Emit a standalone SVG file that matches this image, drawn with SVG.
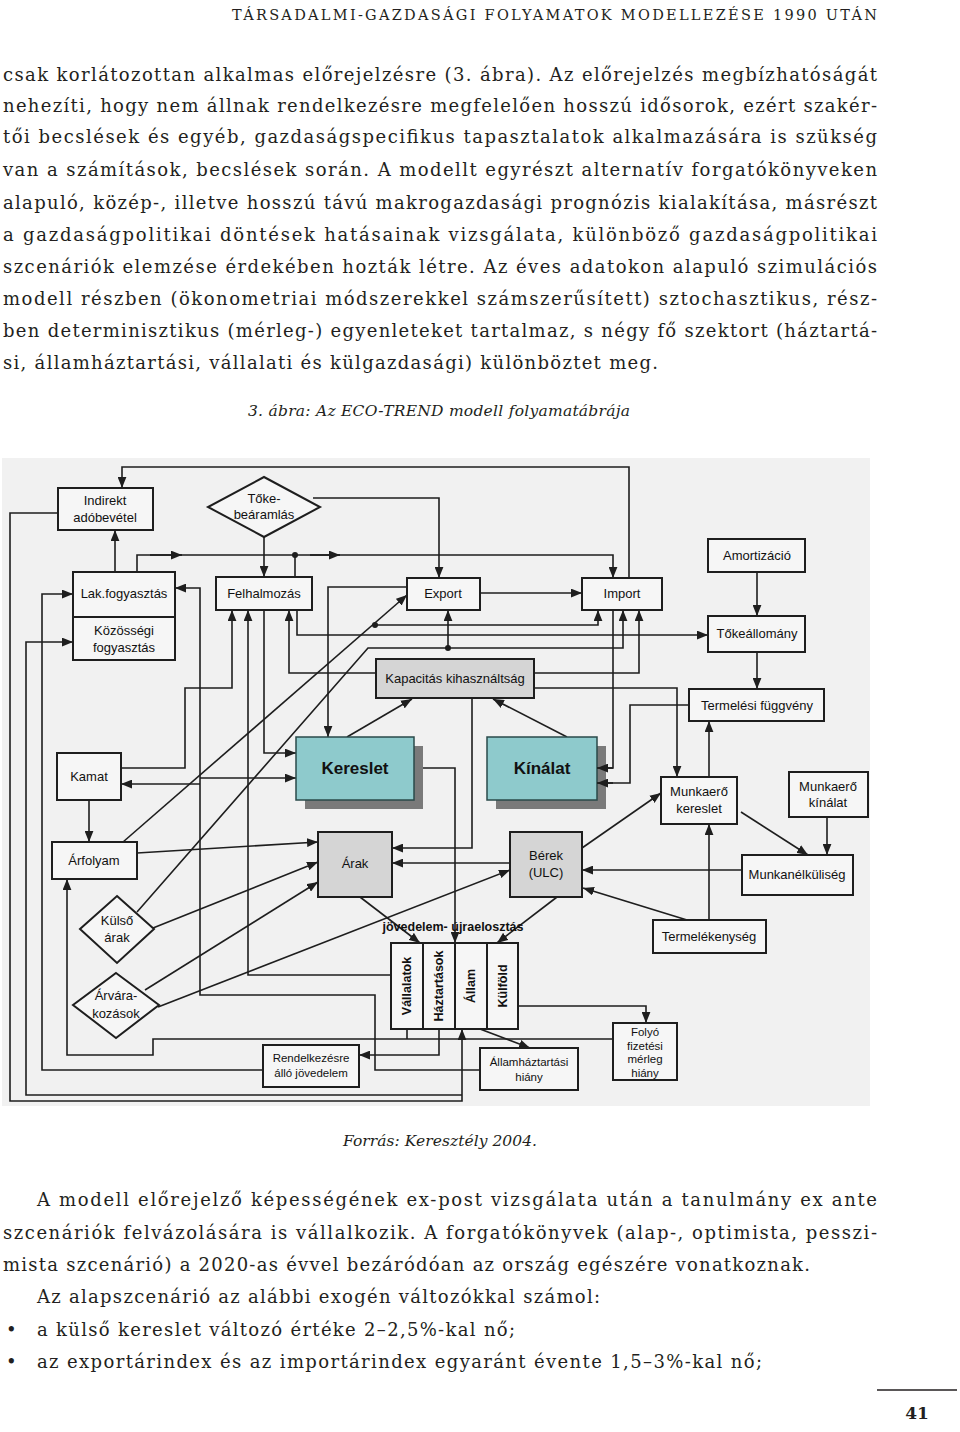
<svg xmlns="http://www.w3.org/2000/svg" width="960" height="1432" viewBox="0 0 960 1432">
<style>
.pg{font-family:"DejaVu Serif","Liberation Serif",serif;font-size:18px;fill:#231f20}
.it{font-family:"DejaVu Serif","Liberation Serif",serif;font-size:15.5px;font-style:italic;fill:#231f20}
.hd{font-family:"DejaVu Serif","Liberation Serif",serif;font-size:14.5px;fill:#231f20}
.bx{fill:#f6f6f6;stroke:#1e1e1e;stroke-width:2}
.gb{fill:#d5d5d5;stroke:#1e1e1e;stroke-width:2}
.tb{fill:#8ecacc;stroke:#2a4a4a;stroke-width:1.5}
.sh{fill:#7a7a7a}
.t{font-family:"Liberation Sans",Arial,sans-serif;font-size:13px;fill:#111;text-anchor:middle}
.ts{font-family:"Liberation Sans",Arial,sans-serif;font-size:11.5px;fill:#111;text-anchor:middle}
.tbd{font-family:"Liberation Sans",Arial,sans-serif;font-size:17px;font-weight:bold;fill:#111;text-anchor:middle}
.tr{font-family:"Liberation Sans",Arial,sans-serif;font-size:12.5px;font-weight:bold;fill:#111;text-anchor:middle}
.ln{fill:none;stroke:#1e1e1e;stroke-width:1.6}
.a{marker-end:url(#ar)}
</style>
<defs>
<marker id="ar" viewBox="0 0 10 8" refX="10" refY="4" markerWidth="11" markerHeight="9" markerUnits="userSpaceOnUse" orient="auto"><path d="M0,0 L10,4 L0,8 z" fill="#1e1e1e"/></marker>
</defs>
<rect width="960" height="1432" fill="#ffffff"/>

<!-- page header and text -->
<text class="hd" x="232" y="20" textLength="645" lengthAdjust="spacing">TÁRSADALMI-GAZDASÁGI FOLYAMATOK MODELLEZÉSE 1990 UTÁN</text>
<g class="pg">
<text x="3" y="81" textLength="874" lengthAdjust="spacing">csak korlátozottan alkalmas előrejelzésre (3. ábra). Az előrejelzés megbízhatóságát</text>
<text x="3" y="112" textLength="874" lengthAdjust="spacing">nehezíti, hogy nem állnak rendelkezésre megfelelően hosszú idősorok, ezért szakér-</text>
<text x="3" y="143" textLength="874" lengthAdjust="spacing">tői becslések és egyéb, gazdaságspecifikus tapasztalatok alkalmazására is szükség</text>
<text x="3" y="176" textLength="874" lengthAdjust="spacing">van a számítások, becslések során. A modellt egyrészt alternatív forgatókönyveken</text>
<text x="3" y="209" textLength="874" lengthAdjust="spacing">alapuló, közép-, illetve hosszú távú makrogazdasági prognózis kialakítása, másrészt</text>
<text x="3" y="241" textLength="874" lengthAdjust="spacing">a gazdaságpolitikai döntések hatásainak vizsgálata, különböző gazdaságpolitikai</text>
<text x="3" y="273" textLength="874" lengthAdjust="spacing">szcenáriók elemzése érdekében hozták létre. Az éves adatokon alapuló szimulációs</text>
<text x="3" y="305" textLength="874" lengthAdjust="spacing">modell részben (ökonometriai módszerekkel számszerűsített) sztochasztikus, rész-</text>
<text x="3" y="337" textLength="874" lengthAdjust="spacing">ben determinisztikus (mérleg-) egyenleteket tartalmaz, s négy fő szektort (háztartá-</text>
<text x="3" y="369" textLength="655" lengthAdjust="spacing">si, államháztartási, vállalati és külgazdasági) különböztet meg.</text>
</g>
<text class="it" x="248" y="416" textLength="382" lengthAdjust="spacing">3. ábra: Az ECO-TREND modell folyamatábrája</text>
<text class="it" x="343" y="1146" textLength="194" lengthAdjust="spacing">Forrás: Keresztély 2004.</text>
<g class="pg">
<text x="37" y="1206" textLength="840" lengthAdjust="spacing">A modell előrejelző képességének ex-post vizsgálata után a tanulmány ex ante</text>
<text x="3" y="1239" textLength="874" lengthAdjust="spacing">szcenáriók felvázolására is vállalkozik. A forgatókönyvek (alap-, optimista, pesszi-</text>
<text x="3" y="1271" textLength="807" lengthAdjust="spacing">mista szcenárió) a 2020-as évvel bezáródóan az ország egészére vonatkoznak.</text>
<text x="37" y="1303" textLength="563" lengthAdjust="spacing">Az alapszcenárió az alábbi exogén változókkal számol:</text>
<text x="6" y="1336">•</text>
<text x="37" y="1336" textLength="478" lengthAdjust="spacing">a külső kereslet változó értéke 2–2,5%-kal nő;</text>
<text x="6" y="1368">•</text>
<text x="37" y="1368" textLength="725" lengthAdjust="spacing">az exportárindex és az importárindex egyaránt évente 1,5–3%-kal nő;</text>
</g>
<line x1="877" y1="1390" x2="957" y2="1390" stroke="#231f20" stroke-width="1.5"/>
<text x="917" y="1419" text-anchor="middle" font-family="DejaVu Serif, serif" font-size="17" font-weight="bold" fill="#231f20">41</text>

<!-- diagram background -->
<rect x="2" y="458" width="868" height="648" fill="#f1f1f1"/>

<!-- connectors -->
<g id="connectors" class="ln">
<path class="a" d="M629,578 V467 H122 V488"/>
<path class="a" d="M264,537 V577"/>
<path class="a" d="M313,498 H439 V578"/>
<path class="a" d="M137,572 V555 H613 V578"/>
<path class="a" d="M150,555 H182"/>
<path class="a" d="M310,555 H340"/>
<path d="M295,577 V555"/>
<path class="a" d="M115,572 V530"/>
<path class="a" d="M58,513 H10 V1101 H462 V1029"/>
<path class="a" d="M462,1095 H26 V642 H73"/>
<path class="a" d="M263,1070 H42 V594 H73"/>
<path class="a" d="M480,1070 H375 V995 H200 V588 H175"/>
<path class="a" d="M200,778 H296"/>
<path class="a" d="M200,784 H121"/>
<path class="a" d="M121,768 H185 V688 H232 V610"/>
<path class="a" d="M391,975 H248 V610"/>
<path class="a" d="M264,610 V753 H296"/>
<path class="a" d="M376,673 H289 V610"/>
<path class="a" d="M297,610 V635 H708"/>
<path class="a" d="M407,587 H328 V737"/>
<path class="a" d="M123,842 L407,595"/>
<path class="a" d="M375,625 H598 V610"/>
<path class="a" d="M137,912 L368,648 H623 V610"/>
<path class="a" d="M448,648 V610"/>
<path class="a" d="M480,593 H582"/>
<path d="M613,610 V768 H606"/>
<path class="a" d="M534,673 H639 V610"/>
<path class="a" d="M534,688 H677 V777"/>
<path class="a" d="M757,572 V616"/>
<path class="a" d="M757,652 V689"/>
<path d="M689,705 H630 V783 H606"/>
<path class="a" d="M709,777 V721"/>
<path class="a" d="M741,812 L808,855"/>
<path class="a" d="M827,817 V855"/>
<path class="a" d="M582,848 L661,793"/>
<path class="a" d="M742,870 H582"/>
<path class="a" d="M687,920 L583,888"/>
<path class="a" d="M709,920 V824"/>
<path class="a" d="M347,737 L412,699"/>
<path class="a" d="M567,737 L493,699"/>
<path class="a" d="M472,698 V848 H392"/>
<path class="a" d="M510,863 H392"/>
<path class="a" d="M414,768 H455 V943"/>
<path class="a" d="M360,897 L420,943"/>
<path class="a" d="M557,897 L497,943"/>
<path class="a" d="M158,1007 L510,870"/>
<path class="a" d="M137,853 L318,842"/>
<path class="a" d="M153,928 L318,862"/>
<path class="a" d="M145,990 L318,882"/>
<path class="a" d="M89,800 V842"/>
<path class="a" d="M613,1039 H153 V1055 H67 V879"/>
<path d="M407,1029 V1039"/>
<path class="a" d="M439,1029 V1055 H359"/>
<path class="a" d="M480,1029 L530,1048"/>
<path class="a" d="M518,1006 H646 V1023"/>
</g>
<g fill="#1e1e1e">
<circle cx="295" cy="555" r="3"/>
<circle cx="375" cy="625" r="3"/>
<circle cx="448" cy="648" r="3"/>
</g>

<!-- nodes -->
<g id="n-indirekt"><rect class="bx" x="58" y="488" width="95" height="42"/><text class="t" x="105" y="505">Indirekt</text><text class="t" x="105" y="522">adóbevétel</text></g>
<g id="n-toke"><polygon class="bx" points="264,477 320,507 264,537 208,507"/><text class="t" x="264" y="503">Tőke-</text><text class="t" x="264" y="519">beáramlás</text></g>
<g id="n-lak"><rect class="bx" x="73" y="572" width="102" height="88"/><line x1="73" y1="617" x2="175" y2="617" stroke="#1e1e1e" stroke-width="2"/><text class="t" x="124" y="598">Lak.fogyasztás</text><text class="t" x="124" y="635">Közösségi</text><text class="t" x="124" y="652">fogyasztás</text></g>
<g id="n-felhalmozas"><rect class="bx" x="216" y="577" width="96" height="33"/><text class="t" x="264" y="598">Felhalmozás</text></g>
<g id="n-export"><rect class="bx" x="407" y="578" width="73" height="32"/><text class="t" x="443" y="598">Export</text></g>
<g id="n-import"><rect class="bx" x="582" y="578" width="80" height="32"/><text class="t" x="622" y="598">Import</text></g>
<g id="n-amortizacio"><rect class="bx" x="708" y="539" width="97" height="33"/><text class="t" x="757" y="560">Amortizáció</text></g>
<g id="n-tokeallomany"><rect class="bx" x="708" y="616" width="97" height="36"/><text class="t" x="757" y="638">Tőkeállomány</text></g>
<g id="n-kapacitas"><rect class="gb" x="376" y="659" width="158" height="39"/><text class="t" x="455" y="683">Kapacitás kihasználtság</text></g>
<g id="n-termelesi"><rect class="bx" x="689" y="689" width="135" height="32"/><text class="t" x="757" y="710">Termelési függvény</text></g>
<g id="n-kamat"><rect class="bx" x="57" y="753" width="64" height="47"/><text class="t" x="89" y="781">Kamat</text></g>
<g id="n-arfolyam"><rect class="bx" x="52" y="842" width="85" height="37"/><text class="t" x="94" y="865">Árfolyam</text></g>
<g id="n-kereslet"><rect class="sh" x="305" y="746" width="118" height="63"/><rect class="tb" x="296" y="737" width="118" height="63"/><text class="tbd" x="355" y="774">Kereslet</text></g>
<g id="n-kinalat"><rect class="sh" x="496" y="746" width="110" height="63"/><rect class="tb" x="487" y="737" width="110" height="63"/><text class="tbd" x="542" y="774">Kínálat</text></g>
<g id="n-mkereslet"><rect class="bx" x="661" y="777" width="76" height="47"/><text class="t" x="699" y="796">Munkaerő</text><text class="t" x="699" y="813">kereslet</text></g>
<g id="n-mkinalat"><rect class="bx" x="789" y="772" width="79" height="45"/><text class="t" x="828" y="791">Munkaerő</text><text class="t" x="828" y="807">kínálat</text></g>
<g id="n-munkanelkuliseg"><rect class="bx" x="742" y="855" width="111" height="40"/><text class="t" x="797" y="879">Munkanélküliség</text></g>
<g id="n-arak"><rect class="gb" x="318" y="832" width="74" height="65"/><text class="t" x="355" y="868">Árak</text></g>
<g id="n-berek"><rect class="gb" x="510" y="832" width="72" height="65"/><text class="t" x="546" y="860">Bérek</text><text class="t" x="546" y="877">(ULC)</text></g>
<g id="n-termelekenyseg"><rect class="bx" x="653" y="920" width="113" height="33"/><text class="t" x="709" y="941">Termelékenység</text></g>
<g id="n-kulsoarak"><polygon class="bx" points="117,896 154,929 117,963 80,929"/><text class="t" x="117" y="925">Külső</text><text class="t" x="117" y="942">árak</text></g>
<g id="n-arvarakozasok"><polygon class="bx" points="116,973 159,1005 116,1038 73,1005"/><text class="t" x="116" y="1000">Árvára-</text><text class="t" x="116" y="1018">kozások</text></g>
<g id="n-rendelkezesre"><rect class="bx" x="263" y="1045" width="96" height="42"/><text class="ts" x="311" y="1062">Rendelkezésre</text><text class="ts" x="311" y="1077">álló jövedelem</text></g>
<g id="n-ujraelosztas">
<text class="tr" x="453" y="931" font-size="13">jövedelem- újraelosztás</text>
<rect class="bx" x="391" y="943" width="127" height="86"/>
<line x1="423" y1="943" x2="423" y2="1029" stroke="#1e1e1e" stroke-width="2"/>
<line x1="455" y1="943" x2="455" y2="1029" stroke="#1e1e1e" stroke-width="2"/>
<line x1="487" y1="943" x2="487" y2="1029" stroke="#1e1e1e" stroke-width="2"/>
<text class="tr" transform="translate(411,986) rotate(-90)">Vállalatok</text>
<text class="tr" transform="translate(443,986) rotate(-90)">Háztartások</text>
<text class="tr" transform="translate(475,986) rotate(-90)">Állam</text>
<text class="tr" transform="translate(507,986) rotate(-90)">Külföld</text>
</g>
<g id="n-allamhaztartasi"><rect class="bx" x="480" y="1048" width="98" height="42"/><text class="ts" x="529" y="1066">Államháztartási</text><text class="ts" x="529" y="1081">hiány</text></g>
<g id="n-folyo"><rect class="bx" x="613" y="1023" width="64" height="57"/><text class="ts" x="645" y="1036">Folyó</text><text class="ts" x="645" y="1050">fizetési</text><text class="ts" x="645" y="1063">mérleg</text><text class="ts" x="645" y="1077">hiány</text></g>

<!-- connector ends drawn over the Kínálat shadow -->
<g id="connectors-over" class="ln">
<path class="a" d="M613,768 H597"/>
<path class="a" d="M613,783 H597"/>
</g>
</svg>
